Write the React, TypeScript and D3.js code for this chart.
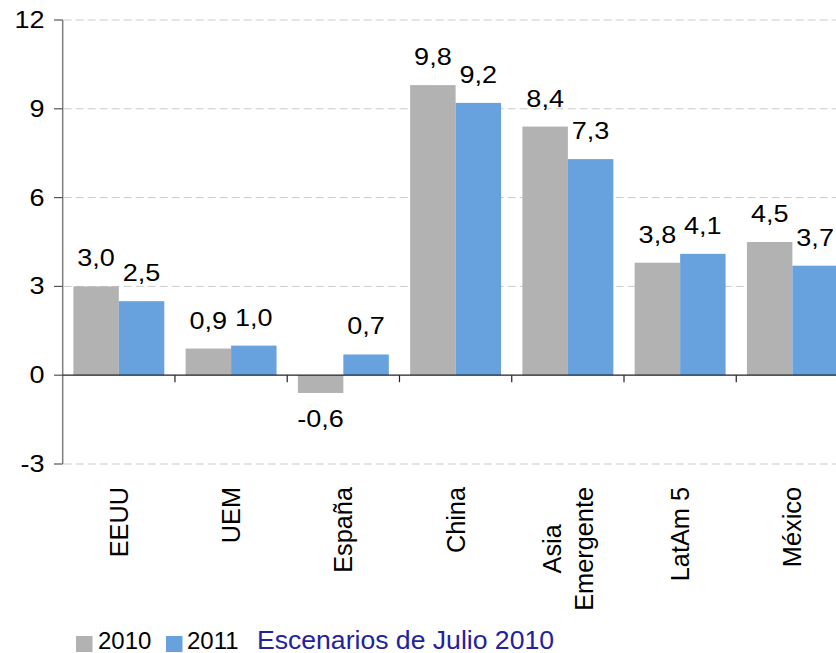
import React, { useEffect, useRef } from "react";
import * as d3 from "d3";

const categories = ["EEUU", "UEM", "España", "China", "Asia\nEmergente", "LatAm 5", "México"];
const seriesNames = ["2010", "2011"];
const values2010 = [3.0, 0.9, -0.6, 9.8, 8.4, 3.8, 4.5];
const values2011 = [2.5, 1.0, 0.7, 9.2, 7.3, 4.1, 3.7];
const yTicks = [-3, 0, 3, 6, 9, 12];
const legendTitle = "Escenarios de Julio 2010";

const W = 836;
const H = 653;
const FONT = "'Liberation Sans', Arial, Helvetica, sans-serif";
const colors = ["#b2b2b2", "#67a2df"];

export default function App() {
  const ref = useRef<SVGSVGElement | null>(null);

  useEffect(() => {
    const svg = d3.select(ref.current);
    svg.selectAll("*").remove();

    const left = 62.7;
    const step = 112.26;
    const x0 = d3
      .scaleBand<string>()
      .domain(categories)
      .range([left, left + step * categories.length])
      .paddingInner(0.19)
      .paddingOuter(0.095);
    const x1 = d3.scaleBand<string>().domain(seriesNames).range([0, x0.bandwidth()]);
    const y = d3.scaleLinear().domain([-3, 12]).range([464, 20]);
    const y0 = y(0);

    const fmt = (v: number) =>
      (v < 0 ? "-" : "") + Math.abs(v).toFixed(1).replace(".", ",");

    // grid lines
    svg
      .append("g")
      .selectAll("line")
      .data(yTicks.filter((t) => t !== 0))
      .join("line")
      .attr("x1", left + 1)
      .attr("x2", W)
      .attr("y1", (d) => y(d))
      .attr("y2", (d) => y(d))
      .attr("stroke", "#cbcbcb")
      .attr("stroke-width", 1)
      .attr("stroke-dasharray", "8,4");

    // bars
    const data = categories.map((c, i) => ({ c, vals: [values2010[i], values2011[i]] }));
    const groups = svg
      .append("g")
      .selectAll("g")
      .data(data)
      .join("g")
      .attr("transform", (d) => `translate(${x0(d.c)},0)`);

    groups
      .selectAll("rect")
      .data((d) => d.vals.map((v, j) => ({ v, s: seriesNames[j], j })))
      .join("rect")
      .attr("x", (d) => x1(d.s)!)
      .attr("width", x1.bandwidth())
      .attr("y", (d) => Math.min(y(d.v), y0))
      .attr("height", (d) => Math.abs(y(d.v) - y0))
      .attr("fill", (d) => colors[d.j]);

    // value labels
    groups
      .selectAll("text")
      .data((d) => d.vals.map((v, j) => ({ v, s: seriesNames[j], j })))
      .join("text")
      .attr("transform", (d) => {
        const cx = x1(d.s)! + x1.bandwidth() / 2;
        const by = d.v >= 0 ? y(d.v) - 20 : y(d.v) + 34;
        return `translate(${cx},${by}) scale(1.15,1)`;
      })
      .attr("text-anchor", "middle")
      .attr("font-family", FONT)
      .attr("font-size", 23.5)
      .attr("fill", "#000")
      .text((d) => fmt(d.v));

    // y axis
    svg
      .append("line")
      .attr("x1", left)
      .attr("x2", left)
      .attr("y1", y(12))
      .attr("y2", y(-3))
      .attr("stroke", "#7f7f7f")
      .attr("stroke-width", 1.5);
    svg
      .append("g")
      .selectAll("line")
      .data(yTicks)
      .join("line")
      .attr("x1", 54)
      .attr("x2", left)
      .attr("y1", (d) => y(d))
      .attr("y2", (d) => y(d))
      .attr("stroke", "#555")
      .attr("stroke-width", 1.2);
    svg
      .append("g")
      .selectAll("text")
      .data(yTicks)
      .join("text")
      .attr("transform", (d) => `translate(44.5,${y(d) + 8}) scale(1.15,1)`)
      .attr("text-anchor", "end")
      .attr("font-family", FONT)
      .attr("font-size", 23.5)
      .attr("fill", "#000")
      .text((d) => String(d));

    // zero line and category ticks
    svg
      .append("line")
      .attr("x1", left)
      .attr("x2", W)
      .attr("y1", y0)
      .attr("y2", y0)
      .attr("stroke", "#222")
      .attr("stroke-width", 1.3);
    svg
      .append("g")
      .selectAll("line")
      .data(d3.range(1, categories.length))
      .join("line")
      .attr("x1", (i) => left + step * i)
      .attr("x2", (i) => left + step * i)
      .attr("y1", y0)
      .attr("y2", y0 + 7)
      .attr("stroke", "#222")
      .attr("stroke-width", 1.2);

    // category labels (rotated)
    const fs = 25.3;
    const capHalf = 0.716 * fs * 0.5;
    const lineGap = 31.6;
    categories.forEach((c) => {
      const lines = c.split("\n");
      const cx = x0(c)! + x0.bandwidth() / 2;
      const g = svg.append("g");
      const texts = lines.map((ln, i) => {
        const bx = cx + capHalf + (i - (lines.length - 1) / 2) * lineGap;
        return g
          .append("text")
          .attr("font-family", FONT)
          .attr("font-size", fs)
          .attr("fill", "#000")
          .attr("text-anchor", "middle")
          .attr("data-bx", bx)
          .text(ln);
      });
      const maxLen = d3.max(texts, (t) => (t.node() as SVGTextElement).getComputedTextLength()) || 0;
      texts.forEach((t) => {
        const bx = +t.attr("data-bx");
        t.attr("transform", `translate(${bx},${487 + maxLen / 2}) rotate(-90)`);
      });
    });

    // legend
    const leg = svg.append("g");
    const legItems = [
      { name: seriesNames[0], rx: 76, tx: 98 },
      { name: seriesNames[1], rx: 166, tx: 187 },
    ];
    legItems.forEach((it, j) => {
      leg
        .append("rect")
        .attr("x", it.rx)
        .attr("y", 636)
        .attr("width", 16.5)
        .attr("height", 16)
        .attr("fill", colors[j]);
      leg
        .append("text")
        .attr("x", it.tx)
        .attr("y", 648.5)
        .attr("font-family", FONT)
        .attr("font-size", 24)
        .attr("fill", "#000")
        .text(it.name);
    });
    leg
      .append("text")
      .attr("x", 257)
      .attr("y", 649)
      .attr("font-family", FONT)
      .attr("font-size", 25.5)
      .attr("fill", "#2222a0")
      .attr("textLength", 297)
      .attr("lengthAdjust", "spacingAndGlyphs")
      .text(legendTitle);
  }, []);

  return (
    <svg
      ref={ref}
      width={W}
      height={H}
      style={{ position: "absolute", left: 0, top: 0, display: "block", background: "#fff" }}
    />
  );
}
